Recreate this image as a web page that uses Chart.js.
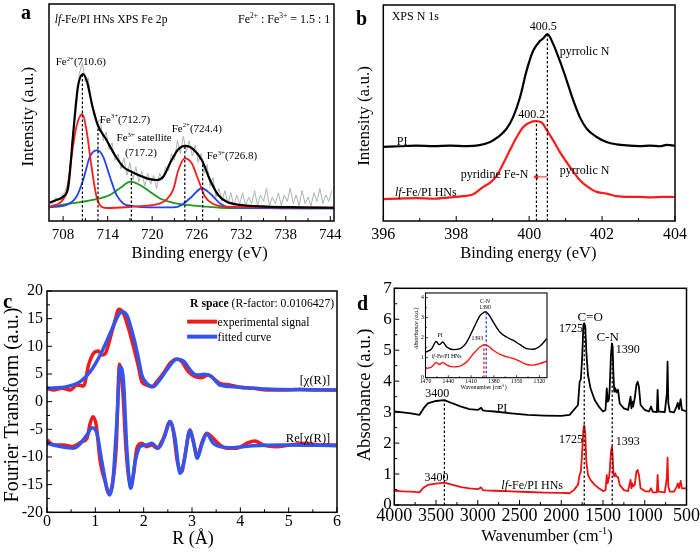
<!DOCTYPE html>
<html><head><meta charset="utf-8">
<script src="https://cdn.jsdelivr.net/npm/chart.js@4.4.0/dist/chart.umd.min.js"></script>
<style>
html,body{margin:0;padding:0;background:#fff;}
#wrap{position:relative;width:700px;height:553px;overflow:hidden;background:#fff;}
canvas{position:absolute;}
</style></head><body>
<div id="wrap">
<canvas id="ca" width="350" height="275" style="left:0;top:0"></canvas>
<canvas id="cb" width="350" height="275" style="left:350px;top:0"></canvas>
<canvas id="cc" width="350" height="278" style="left:0;top:275px"></canvas>
<canvas id="cd" width="350" height="278" style="left:350px;top:275px"></canvas>
<canvas id="ci" width="150" height="106" style="left:400px;top:288px"></canvas>
</div>
<script>
// ---------------- Panel a: XPS Fe 2p ----------------
const aXTicks = [708,714,720,726,732,738,744];
const aXMinor = [711,717,723,729,735,741];
const aGreyX = [706.2,706.6,707.0,707.4,707.8,708.2,708.6,709.0,709.4,709.8,
710.2,710.6,711.0,711.4,711.8,712.2,712.6,713.0,713.4,713.8,
714.2,714.6,715.0,715.4,715.8,716.2,716.6,717.0,717.4,717.8,
718.2,718.6,719.0,719.4,719.8,720.2,720.6,721.0,721.4,721.8,
722.2,722.6,723.0,723.4,723.8,724.2,724.6,725.0,725.4,725.8,
726.2,726.6,727.0,727.4,727.8,728.2,728.6,729.0,729.4,729.8,
730.2,730.6,731.0,731.4,731.8,732.2,732.6,733.0,733.4,733.8,
734.2,734.6,735.0,735.4,735.8,736.2,736.6,737.0,737.4,737.8,
738.2,738.6,739.0,739.4,739.8,740.2,740.6,741.0,741.4,741.8,
742.2,742.6,743.0,743.4,743.8,744.2];
const aGreyY = [9,8,11,9,12,13,17,26,41,55,
68,73,64,66,54,51,45,47,37,41,
33,36,28,31,24,29,21,27,19,25,
18,23,16,22,17,21,15,22,19,25,
23,31,28,37,31,39,32,37,30,35,
27,31,22,26,16,20,11,15,9,14,
8,13,7,12,8,13,7,11,8,14,
7,12,9,15,7,11,8,13,7,12,
9,15,8,12,7,14,8,11,7,13,
9,15,8,12,9,14];
const aBlackX = [706.2,707.1,708,708.7,709.35,710.0,710.7,711.24,711.96,712.7,713.85,714.97,716.1,717.2,718.35,719.5,720.6,721.5,722.4,723.5,724.5,725.55,726.7,727.8,728.9,730.05,731.85,735.45,739.95,744.45];
const aBlackY = [8.4,9.7,11.2,15.8,40,62,67.7,64,52.7,44,37.3,30.4,25,22.7,20.9,19.4,18.9,20.4,26.6,33,34.6,33,28,18.9,12,8.9,7.4,6.6,6.3,6.1];
const aRedX = [706.2,708.45,709.13,709.8,710.6,711.15,711.83,712.5,713.18,713.85,717.45,719.7,721.05,721.95,722.85,723.53,724.4,725.33,726.23,727.13,728.25,730.05,744.45];
const aRedY = [6.6,12.7,29.6,43.5,49.3,41.9,25,11.2,6.6,6.0,6.6,7.2,8.1,10,14.6,23.5,28.9,26.6,18.9,11.2,7.8,6.6,6.1];
const aBlueX = [706.2,708.45,709.8,710.7,711.6,712.6,713.4,714.3,715.2,716.1,717.45,719.7,722.85,723.98,725.33,726.68,727.8,729.15,730.5,744.45];
const aBlueY = [6.3,7.4,11.2,18.9,29.6,32.7,29.6,20.4,12,8.1,6.9,6.3,6.3,7.4,11.2,15.1,12.7,8.1,6.3,5.8];
const aGreenX = [706.2,708.45,710.7,712.95,714.3,715.65,717.1,718.35,719.7,721.05,722.85,724.65,727.35,730.05,744.45];
const aGreenY = [6.6,7.8,8.9,10.4,12,15.1,18.1,16.6,13.5,10.4,8.4,7.4,6.6,6,5.8];
const aPeakX = [710.6,712.7,717.2,724.4,726.8];
const aPeakTop = [67.7,44,22.7,34.6,27.5];

// ---------------- Panel b: XPS N 1s ----------------
const bXTicks = [396,398,400,402,404];
const bXMinor = [397,399,401,403];
const bBlackX = [396.0,396.46,396.91,397.37,397.83,398.29,398.6,398.93,399.15,399.38,399.56,399.75,399.93,400.11,400.3,400.39,400.5,400.66,400.84,401.03,401.21,401.39,401.58,401.85,402.12,402.4,402.67,403.04,403.31,403.59,403.77,404.0];
const bBlackY = [34.3,34.6,34.9,34.7,34.9,34.7,35.0,36.6,38.9,42.7,48.1,57.3,69.6,78.8,83.4,84.6,86.5,81.9,74.2,65.0,55.8,48.1,42.7,38.9,36.6,35.5,35.0,34.7,34.9,34.6,35.2,34.9];
const bRedX = [396.0,396.46,396.91,397.37,397.83,398.19,398.47,398.74,398.93,399.11,399.29,399.47,399.66,399.84,400.02,400.19,400.34,400.48,400.66,400.84,401.12,401.39,401.67,401.85,402.12,402.4,402.67,403.04,403.31,403.68,404.0];
const bRedY = [10.1,10.4,10.6,10.3,10.9,11.5,12.4,15.8,17.8,20.9,26.6,32.7,38.9,43.5,45.6,46.2,45.6,42.2,37.3,32.0,25.0,18.9,15.1,13.5,12.7,11.5,11.2,11.2,10.9,11.2,11.1];
const bPeakX = [400.5,400.2];
const bPeakTop = [86.5,46.2];
const bShift = [400.5,400.2];
const bShiftY = 20.4;

// ---------------- Panel c: EXAFS R space ----------------
const cXTicks = [0,1,2,3,4,5,6];
const cXMinor = [0.5,1.5,2.5,3.5,4.5,5.5];
const cYTicks = [-20,-15,-10,-5,0,5,10,15,20];
const cYMinor = [-17.5,-12.5,-7.5,-2.5,2.5,7.5,12.5,17.5];
const cUpExpX = [0,0.138,0.31,0.48,0.62,0.757,0.86,0.963,1.067,1.135,1.204,1.307,1.41,1.479,1.583,1.686,1.789,1.892,1.961,2.064,2.167,2.271,2.408,2.546,2.684,2.787,2.924,3.062,3.2,3.337,3.44,3.578,3.785,3.991,4.266,4.541,4.885,5.229,5.573,5.986];
const cUpExpY = [2.41,2.11,2.41,2.11,3.01,2.83,6.63,8.73,9.16,8.43,8.67,11.45,14.76,16.69,15.96,13.25,9.94,6.33,3.61,3.01,2.71,3.61,5.12,6.93,7.71,7.23,5.42,4.52,4.34,4.82,4.22,3.31,3.01,2.59,2.41,2.11,2.11,2.23,2.11,2.11];
const cUpFitX = [0,0.413,0.688,0.895,1.101,1.307,1.479,1.548,1.651,1.789,1.892,1.961,2.064,2.202,2.305,2.477,2.684,2.821,2.993,3.096,3.268,3.406,3.578,3.853,4.541,5.986];
const cUpFitY = [2.41,2.71,3.61,5.42,8.43,12.35,15.66,16.27,15.66,11.75,7.83,4.82,3.31,2.71,3.61,5.72,7.65,7.35,5.42,4.82,4.94,4.52,3.01,2.71,2.29,2.11];
const cReExpX = [0,0.138,0.344,0.516,0.722,0.826,0.894,0.95,1.018,1.101,1.204,1.273,1.342,1.431,1.5,1.569,1.638,1.72,1.789,1.858,1.961,2.064,2.167,2.271,2.408,2.546,2.615,2.697,2.787,2.856,2.959,3.028,3.11,3.2,3.303,3.44,3.578,3.716,3.922,4.128,4.3,4.473,4.748,5.023,5.367,5.642,5.986];
const cReExpY = [-6.93,-7.83,-7.83,-8.13,-7.23,-6.63,-3.92,-2.71,-4.22,-10.84,-14.46,-16.57,-15.36,-8.43,6.75,1.81,-9.04,-14.76,-13.25,-8.43,-7.53,-8.13,-7.83,-8.43,-6.63,-3.61,-5.42,-10.84,-12.65,-9.64,-5.12,-7.23,-9.94,-7.53,-5.72,-6.63,-7.83,-8.43,-8.43,-7.53,-7.11,-7.83,-8.13,-7.83,-7.53,-7.83,-7.83];
const cReFitX = [0,0.275,0.55,0.826,0.929,1.032,1.135,1.239,1.294,1.362,1.445,1.514,1.583,1.651,1.734,1.823,1.927,2.064,2.167,2.305,2.443,2.546,2.649,2.752,2.835,2.959,3.028,3.11,3.2,3.303,3.44,3.578,3.853,4.266,4.885,5.986];
const cReFitY = [-7.53,-8.13,-8.43,-6.02,-4.7,-5.72,-10.84,-15.66,-16.87,-14.46,-3.61,6.33,3.61,-8.43,-15.66,-10.84,-8.13,-7.83,-7.53,-8.43,-6.02,-3.61,-6.63,-12.95,-10.84,-5.12,-7.23,-10.24,-7.83,-5.84,-7.53,-8.13,-8.31,-7.95,-7.83,-7.95];
const cLegend = ['experimental signal','fitted curve'];

// ---------------- Panel d: FTIR ----------------
const dXTicks = [4000,3500,3000,2500,2000,1500,1000,500];
const dXMinor = [3750,3250,2750,2250,1750,1250,750];
const dYTicks = [0,1,2,3,4,5,6,7];
const dYMinor = [0.5,1.5,2.5,3.5,4.5,5.5,6.5];
const dX = [4000,3900,3800,3700,3650,3600,3500,3400,3300,3200,3100,3000,2960,2940,2900,2800,2600,2400,2200,2000,1900,1850,1800,1780,1765,1750,1735,1725,1712,1700,1680,1650,1600,1550,1500,1470,1455,1445,1430,1420,1405,1393,1385,1375,1365,1352,1340,1320,1300,1250,1200,1170,1160,1150,1140,1120,1100,1085,1070,1050,1000,950,925,905,855,846,836,760,735,727,718,700,650,615,605,590,570,555,500];
const dPI = [3.02,2.99,2.96,2.91,3.12,3.28,3.36,3.39,3.28,3.18,3.10,3.07,3.14,3.06,3.04,3.02,2.96,2.91,2.89,2.88,2.91,3.07,3.23,3.98,4.07,4.74,5.82,5.87,5.76,4.95,4.2,3.77,3.39,3.18,3.02,3.07,3.77,3.34,3.39,3.77,4.85,5.22,5.12,4.2,3.66,3.77,3.64,3.72,3.28,3.12,3.07,3.5,3.12,3.34,3.18,3.45,3.88,3.98,3.82,3.23,3.07,3.02,3.18,3.02,3.0,3.72,3.02,3.0,3.6,4.63,3.3,3.02,2.99,3.2,3.3,3.1,3.42,3.07,3.02];
const dHNs = [0.46,0.44,0.43,0.41,0.56,0.65,0.69,0.72,0.65,0.58,0.54,0.51,0.57,0.48,0.47,0.46,0.44,0.42,0.40,0.39,0.38,0.48,0.65,0.97,1.08,1.7,2.45,2.58,2.3,1.4,0.97,0.81,0.65,0.54,0.45,0.48,0.97,0.7,0.86,1.08,1.72,1.88,1.62,1.02,0.92,1.02,0.92,0.9,0.65,0.48,0.45,0.81,0.54,0.7,0.6,0.65,1.08,1.13,0.97,0.54,0.45,0.43,0.54,0.41,0.41,0.97,0.43,0.41,0.9,1.53,0.6,0.43,0.43,0.6,0.7,0.55,0.78,0.54,0.54];
const dPeakX = [3400,1725,1390];
const dPeakTop = [3.39,5.87,5.22];
// inset
const iXTicks = [1470,1440,1410,1380,1350,1320];
const iXMinor = [1455,1425,1395,1365,1335];
const iYTicks = [0,1,2,3,4];
const iYMinor = [0.5,1.5,2.5,3.5];
const iX = [1469.3,1461.8,1456,1451.8,1447.4,1442,1433.4,1424.5,1415.7,1407,1398.2,1393,1391.6,1387.3,1380.7,1371.8,1363,1354.3,1345.5,1336.7,1327.9,1319.1,1310.3];
const iPI = [1.28,1.45,1.81,1.65,1.78,1.53,1.4,1.45,1.78,2.44,3.1,3.26,3.29,3.18,2.77,2.27,2.02,1.86,1.65,1.45,1.42,1.58,1.95];
const iHNs = [0.46,0.54,0.76,0.66,0.76,0.63,0.54,0.58,0.79,1.2,1.53,1.65,1.64,1.58,1.37,1.16,1.04,0.96,0.82,0.66,0.63,0.71,0.82];

// ---------------- helpers ----------------
const SERIF = "'Liberation Serif', 'Times New Roman', serif";
function parseRich(s){
  const segs=[]; let it=false, bd=false, buf='', i=0;
  const push=(t,sup)=>{ if(t) segs.push({t,it,bd,sup}); };
  while(i<s.length){
    const c=s[i];
    if(c==='^' && s[i+1]==='{'){ push(buf,false); buf=''; const j=s.indexOf('}',i); push(s.slice(i+2,j),true); i=j+1; continue; }
    if(c==='*'){ push(buf,false); buf=''; it=!it; i++; continue; }
    if(c==='#'){ push(buf,false); buf=''; bd=!bd; i++; continue; }
    buf+=c; i++;
  }
  push(buf,false); return segs;
}
function drawRich(g, s, x, y, size, align, color, rot){
  const segs=parseRich(s);
  const f=sg=>(sg.it?'italic ':'')+(sg.bd?'bold ':'')+(sg.sup?size*0.62:size)+'px '+SERIF;
  let w=0;
  segs.forEach(sg=>{ g.font=f(sg); sg.w=g.measureText(sg.t).width; w+=sg.w; });
  g.save(); g.translate(x,y); if(rot) g.rotate(rot);
  let cx = align==='center' ? -w/2 : align==='right' ? -w : 0;
  const base=size*0.34;
  g.fillStyle=color||'#000'; g.textAlign='left'; g.textBaseline='alphabetic';
  segs.forEach(sg=>{ g.font=f(sg); g.fillText(sg.t, cx, sg.sup ? base-size*0.42 : base); cx+=sg.w; });
  g.restore();
}
function line(xs, ys, color, width, extra){
  return Object.assign({data:xs.map((x,i)=>({x, y:ys[i]})), showLine:true, borderColor:color, backgroundColor:color,
    borderWidth:width, pointRadius:0, fill:false, cubicInterpolationMode:'monotone', borderJoinStyle:'round'}, extra||{});
}
function dots(xs, tops, bottom, color, w){
  return xs.map((x,i)=>({data:[{x, y:bottom},{x, y:tops[i]}], showLine:true, borderColor:color, borderWidth:w||1.2,
    borderDash:[2.5,2], pointRadius:0}));
}
function build(id, c){
  const fnt=(size)=>({family:SERIF, size});
  const plug={
    id:'deco',
    beforeDatasetsDraw(chart){
      if(!c.bg) return;
      const a=chart.chartArea, g=chart.ctx;
      g.save(); g.fillStyle='#fff'; g.fillRect(a.left,a.top,a.right-a.left,a.bottom-a.top); g.restore();
    },
    afterDraw(chart){
      const g=chart.ctx, a=chart.chartArea, xs=chart.scales.x, ys=chart.scales.y;
      g.save();
      g.strokeStyle='#000'; g.lineWidth=c.frameW||1.5;
      g.strokeRect(a.left, a.top, a.right-a.left, a.bottom-a.top);
      g.lineWidth=c.tickW||1;
      g.beginPath();
      c.xTicks.forEach(v=>{const p=xs.getPixelForValue(v); g.moveTo(p,a.bottom); g.lineTo(p,a.bottom-c.majorLen);});
      (c.xMinor||[]).forEach(v=>{const p=xs.getPixelForValue(v); g.moveTo(p,a.bottom); g.lineTo(p,a.bottom-c.minorLen);});
      if(c.yTickMarks){
        c.yTicks.forEach(v=>{const p=ys.getPixelForValue(v); g.moveTo(a.left,p); g.lineTo(a.left+c.majorLen,p);});
        (c.yMinor||[]).forEach(v=>{const p=ys.getPixelForValue(v); g.moveTo(a.left,p); g.lineTo(a.left+c.minorLen,p);});
      }
      g.stroke();
      (c.texts||[]).forEach(t=>drawRich(g, t.s, xs.getPixelForValue(t.x), ys.getPixelForValue(t.y), t.size||c.textSize, t.align||'left', t.color||'#000'));
      // axis titles (canvas pixel positions of the text centres)
      const xt=c.xTitle, yt=c.yTitle;
      drawRich(g, xt.s, xt.x, xt.y, xt.size, 'center', '#000');
      drawRich(g, yt.s, yt.x, yt.y, yt.size, 'center', '#000', -Math.PI/2);
      if(c.label){ g.fillStyle='#000'; g.font='bold '+c.label.size+'px '+SERIF; g.textAlign='left'; g.textBaseline='alphabetic'; g.fillText(c.label.t, c.label.x, c.label.y); }
      if(c.extra) c.extra(chart,g,xs,ys);
      g.restore();
    }
  };
  return new Chart(document.getElementById(id), {
    type:'scatter',
    data:{datasets:c.datasets},
    options:{
      responsive:false, animation:false, events:[],
      layout:{padding:c.padding},
      plugins:{legend:{display:false}, tooltip:{enabled:false}},
      scales:{
        x:{type:'linear', position:'bottom', min:c.xmin, max:c.xmax, reverse:!!c.xrev,
          afterBuildTicks:s=>{ s.ticks=c.xTicks.map(v=>({value:v})); },
          afterFit:s=>{ s.height=c.xHeight; },
          grid:{display:false, drawTicks:false}, border:{display:false},
          ticks:{autoSkip:false, maxRotation:0, minRotation:0, padding:c.xTickPad, color:'#000', font:fnt(c.xLabelSize), callback:v=>String(v)},
          title:{display:false}},
        y:{type:'linear', position:'left', min:c.ymin, max:c.ymax,
          afterBuildTicks:s=>{ s.ticks=c.yTicks.map(v=>({value:v})); },
          afterFit:s=>{ s.width=c.yWidth; },
          grid:{display:false, drawTicks:false}, border:{display:false},
          ticks:{display:!!c.yLabels, autoSkip:false, padding:c.yTickPad||0, color:'#000', font:fnt(c.yLabelSize||12), callback:v=>String(v)},
          title:{display:false}}
      }
    },
    plugins:[plug]
  });
}

// ---------------- Panel a ----------------
build('ca', {
  xmin:706.1, xmax:744.5, xTicks:aXTicks, xMinor:aXMinor, xLabelSize:15, xTickPad:5, xHeight:54,
  xTitle:{s:'Binding energy (eV)', x:199.5, y:252.5, size:16.5},
  ymin:0, ymax:100, yTicks:[0,100], yLabels:false, yTickMarks:false, yWidth:49,
  yTitle:{s:'Intensity (a.u.)', x:27.5, y:116.7, size:17},
  padding:{left:0, top:4, right:16, bottom:0}, majorLen:5, minorLen:3, textSize:11,
  label:{t:'a', x:21, y:18.5, size:20},
  datasets:[
    ...dots(aPeakX, aPeakTop, 0, '#000'),
    line(aBlackX, aBlackY, '#000000', 2.2),
    line(aRedX, aRedY, '#ff1a1a', 1.8),
    line(aBlueX, aBlueY, '#2244ee', 1.8),
    line(aGreenX, aGreenY, '#1d9a1d', 1.8),
    line(aGreyX, aGreyY, '#aab4b4', 1, {cubicInterpolationMode:'default', tension:0})
  ],
  texts:[
    {x:706.87, y:93.1, s:'*lf*-Fe/PI HNs XPS Fe 2p', size:11.6},
    {x:744.0, y:93.1, s:'Fe^{2+} : Fe^{3+} = 1.5 : 1', align:'right', size:12},
    {x:707.0, y:73.5, s:'Fe^{2+}(710.6)'},
    {x:712.95, y:47, s:'Fe^{3+}(712.7)'},
    {x:715.2, y:38.4, s:'Fe^{3+} satellite'},
    {x:716.33, y:31.5, s:'(717.2)'},
    {x:722.63, y:42.7, s:'Fe^{2+}(724.4)'},
    {x:727.35, y:30.1, s:'Fe^{3+}(726.8)'}
  ]
});

// ---------------- Panel b ----------------
build('cb', {
  xmin:396, xmax:404, xTicks:bXTicks, xMinor:bXMinor, xLabelSize:16, xTickPad:4, xHeight:54,
  xTitle:{s:'Binding energy (eV)', x:178.3, y:252.8, size:16.5},
  ymin:0, ymax:100, yTicks:[0,100], yLabels:false, yTickMarks:false, yWidth:33.3,
  yTitle:{s:'Intensity (a.u.)', x:13.5, y:116, size:17},
  padding:{left:0, top:4, right:25, bottom:0}, majorLen:5, minorLen:3, textSize:12,
  label:{t:'b', x:6, y:25, size:20},
  datasets:[
    ...dots(bPeakX, bPeakTop, 0, '#000'),
    {data:[{x:bShift[0], y:bShiftY},{x:bShift[1], y:bShiftY}], showLine:true, borderColor:'#ff1a1a', backgroundColor:'#ff1a1a',
      borderWidth:1, pointRadius:[0,2.5], pointStyle:'triangle', rotation:-90},
    line(bBlackX, bBlackY, '#000000', 2.2),
    line(bRedX, bRedY, '#ff1a1a', 2.2)
  ],
  texts:[
    {x:396.23, y:95, s:'XPS N 1s'},
    {x:400.39, y:90.2, s:'400.5', align:'center'},
    {x:400.84, y:78.8, s:'pyrrolic N'},
    {x:400.07, y:49.8, s:'400.2', align:'center'},
    {x:399.98, y:22, s:'pyridine Fe-N', align:'right'},
    {x:400.84, y:23.5, s:'pyrrolic N'},
    {x:396.37, y:37.3, s:'PI'},
    {x:396.32, y:13.5, s:'*lf*-Fe/PI HNs'}
  ]
});

// ---------------- Panel c ----------------
build('cc', {
  xmin:0, xmax:6, xTicks:cXTicks, xMinor:cXMinor, xLabelSize:16, xTickPad:0, xHeight:40.7,
  xTitle:{s:'R (\u00C5)', x:193, y:263, size:18},
  ymin:-20, ymax:20, yTicks:cYTicks, yMinor:cYMinor, yLabels:true, yTickMarks:true, yWidth:47, yLabelSize:16, yTickPad:4,
  yTitle:{s:'Fourier Transform (a.u.)', x:11, y:130, size:20},
  padding:{left:0, top:16, right:13, bottom:0}, majorLen:5, minorLen:3, textSize:11.7,
  label:{t:'c', x:3, y:33, size:21},
  datasets:[
    line(cUpFitX, cUpFitY, '#3355ee', 3.5),
    line(cReFitX, cReFitY, '#3355ee', 3.5),
    line(cUpExpX, cUpExpY, '#f01c1c', 3.5),
    line(cReExpX, cReExpY, '#f01c1c', 3.5)
  ],
  texts:[
    {x:2.96, y:17.77, s:'#R space# (R-factor: 0.0106427)'},
    {x:3.53, y:14.46, s:cLegend[0]},
    {x:3.53, y:11.75, s:cLegend[1]},
    {x:5.86, y:3.92, s:'[\u03C7(R)]', align:'right', size:12.5},
    {x:5.86, y:-6.45, s:'Re[\u03C7(R)]', align:'right', size:12.5}
  ],
  extra:(chart,g,xs,ys)=>{
    const ds=chart.data.datasets;
    [[ds[2].borderColor,14.46],[ds[0].borderColor,11.75]].forEach(([col,yv])=>{
      g.strokeStyle=col; g.lineWidth=4; g.beginPath();
      g.moveTo(xs.getPixelForValue(2.9), ys.getPixelForValue(yv));
      g.lineTo(xs.getPixelForValue(3.52), ys.getPixelForValue(yv)); g.stroke();
    });
  }
});

// ---------------- Panel d ----------------
build('cd', {
  xmin:500, xmax:4000, xrev:true, xTicks:dXTicks, xMinor:dXMinor, xLabelSize:18, xTickPad:0, xHeight:48,
  xTitle:{s:'Wavenumber (cm^{-1})', x:197, y:260.5, size:16.5},
  ymin:0, ymax:7, yTicks:dYTicks, yMinor:dYMinor, yLabels:true, yTickMarks:true, yWidth:44.3, yLabelSize:17, yTickPad:2.6,
  yTitle:{s:'Absorbance (a.u.)', x:13.3, y:120, size:18.6},
  padding:{left:0, top:13.3, right:13, bottom:0}, majorLen:5, minorLen:3, textSize:12,
  label:{t:'d', x:7, y:35, size:20},
  datasets:[
    ...dots(dPeakX, dPeakTop, 0, '#000'),
    line(dX, dPI, '#000000', 1.8, {cubicInterpolationMode:'default', tension:0}),
    line(dX, dHNs, '#ee1111', 1.8, {cubicInterpolationMode:'default', tension:0})
  ],
  texts:[
    {x:3486, y:3.61, s:'3400', align:'center'},
    {x:2710, y:3.14, s:'PI', align:'center'},
    {x:3494, y:0.92, s:'3400', align:'center'},
    {x:2718, y:0.65, s:'*lf*-Fe/PI HNs'},
    {x:1655, y:6.08, s:'C=O', align:'center', size:13},
    {x:1882, y:5.73, s:'1725', align:'center'},
    {x:1444, y:5.44, s:'C-N', align:'center', size:13},
    {x:1205, y:5.04, s:'1390', align:'center'},
    {x:1882, y:2.13, s:'1725', align:'center'},
    {x:1205, y:2.07, s:'1393', align:'center'}
  ]
});

// ---------------- Inset ----------------
build('ci', {
  xmin:1310, xmax:1470, xrev:true, xTicks:iXTicks, xMinor:iXMinor, xLabelSize:5.8, xTickPad:0, xHeight:16.3,
  xTitle:{s:'Wavenumber (cm^{-1})', x:83.5, y:99.5, size:5.8},
  ymin:0, ymax:4.23, yTicks:iYTicks, yMinor:iYMinor, yLabels:true, yTickMarks:true, yWidth:25.5, yLabelSize:5.8, yTickPad:1.5,
  yTitle:{s:'*Absorbance (a.u.)*', x:16.5, y:40.3, size:5.8},
  padding:{left:0, top:4, right:3, bottom:0}, majorLen:2.5, minorLen:1.5, textSize:5.8, frameW:1.1, tickW:0.7, bg:true,
  datasets:[
    ...dots([1393], [1.65], 0, '#ff1a1a', 1.3),
    ...dots([1390], [3.29], 0, '#2244ee', 1.3),
    line(iX, iPI, '#000000', 1.4),
    line(iX, iHNs, '#ff1a1a', 1.4)
  ],
  texts:[
    {x:1391.6, y:3.84, s:'C-N', align:'center'},
    {x:1391.6, y:3.51, s:'1390', align:'center'},
    {x:1401.8, y:1.98, s:'1393', align:'center'},
    {x:1450.9, y:2.14, s:'PI', align:'center'},
    {x:1461.8, y:1.09, s:'*lf*-Fe/PI HNs'}
  ]
});
</script>
</body></html>
